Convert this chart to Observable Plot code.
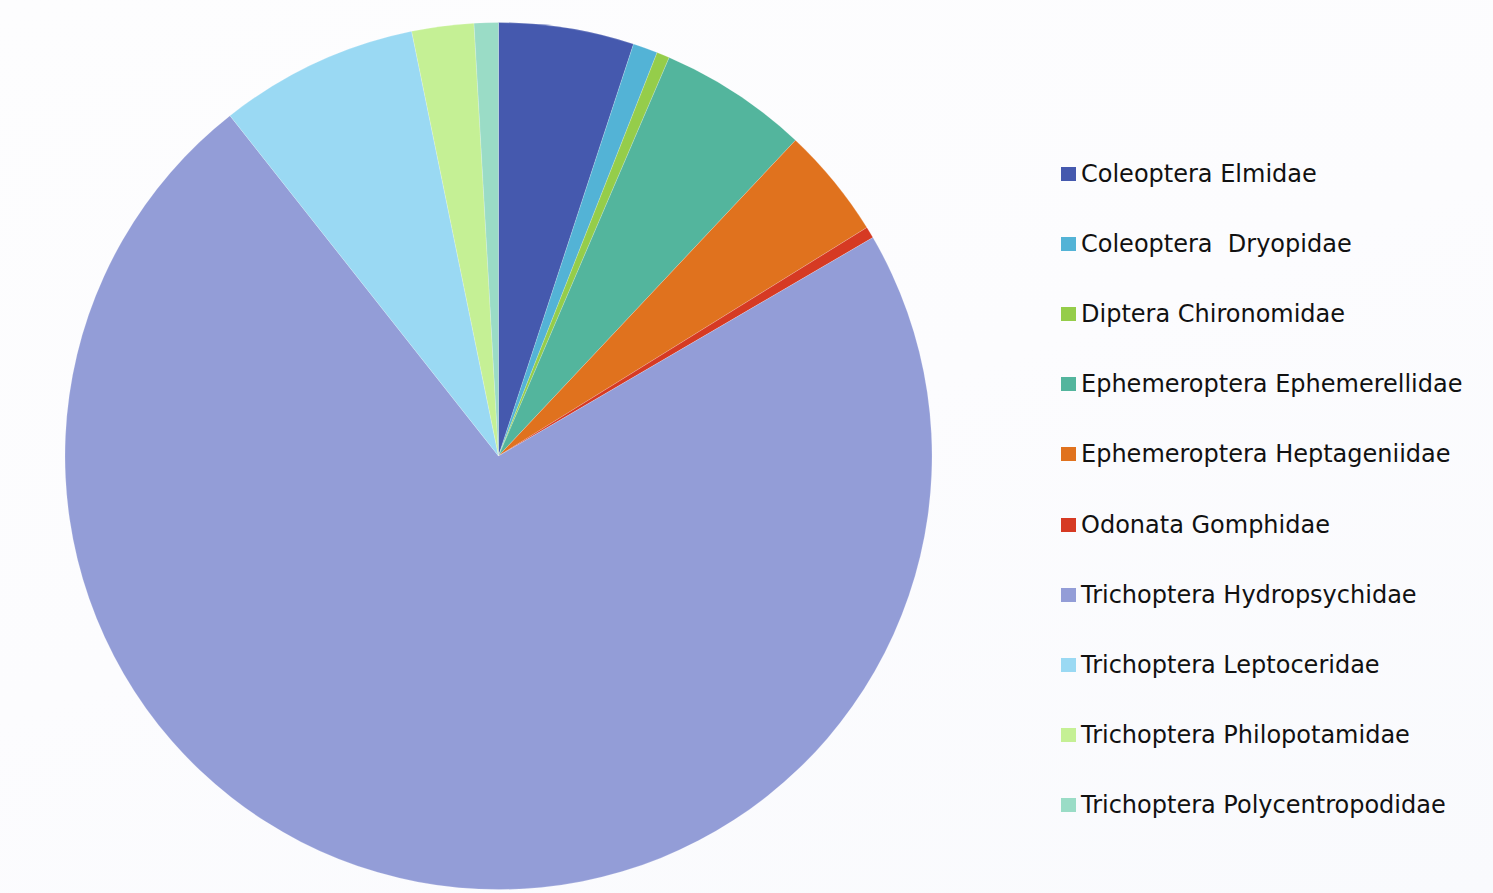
<!DOCTYPE html>
<html>
<head>
<meta charset="utf-8">
<script src="https://cdn.jsdelivr.net/npm/d3@7"></script>
<script src="https://cdn.jsdelivr.net/npm/@observablehq/plot@0.6"></script>
<style>
  html, body { margin: 0; padding: 0; background: #fcfcfe; }
  body { width: 1493px; height: 893px; position: relative; overflow: hidden;
         background: linear-gradient(160deg, #fdfdfe 0%, #fcfcfe 50%, #f9fafd 100%); }
  #chart { position: absolute; left: 0; top: 0; }
  #legend { position: absolute; left: 1061px; top: 0; font-family: "DejaVu Sans", sans-serif;
            font-size: 24px; color: #111; }
  .item { position: absolute; left: 0; white-space: pre; height: 30px; line-height: 30px; }
  .sw { position: absolute; left: 0; top: 8px; width: 15px; height: 14px; }
  .lbl { position: absolute; left: 20px; top: 0; }
</style>
</head>
<body>
<div id="chart"></div>
<div id="legend"></div>
<script>
const families = [
  "Coleoptera Elmidae",
  "Coleoptera  Dryopidae",
  "Diptera Chironomidae",
  "Ephemeroptera Ephemerellidae",
  "Ephemeroptera Heptageniidae",
  "Odonata Gomphidae",
  "Trichoptera Hydropsychidae",
  "Trichoptera Leptoceridae",
  "Trichoptera Philopotamidae",
  "Trichoptera Polycentropodidae"
];
const shares = [5.04, 0.92, 0.48, 5.57, 4.15, 0.43, 72.76, 7.42, 2.31, 0.90];
const colors = ["#4559ae", "#53b3d6", "#95cd4a", "#53b59d", "#e0721e",
                "#d63a23", "#939dd7", "#9ad9f3", "#c5f095", "#9adcc6"];

const data = families.map((name, i) => ({name, value: shares[i]}));
const pie = d3.pie().sort(null).value(d => d.value)(data);

const colorScale = Plot.scale({color: {type: "ordinal", domain: families, range: colors}});

const plot = Plot.plot({
  width: 1493,
  height: 893,
  margin: 0,
  style: {background: "transparent"},
  x: {domain: [-1, 1], range: [65, 932], axis: null},
  y: {domain: [-1, 1], range: [889.5, 22.5], axis: null},
  marks: [
    (index, scales) => {
      const cx = scales.x(0), cy = scales.y(0);
      const r = scales.x(1) - scales.x(0);
      const arc = d3.arc().innerRadius(0).outerRadius(r);
      const g = d3.create("svg:g").attr("transform", `translate(${cx},${cy})`);
      g.selectAll("path").data(pie).join("path")
        .attr("d", arc)
        .attr("fill", d => colorScale.apply(d.data.name))
        .attr("stroke", "#ffffff")
        .attr("stroke-opacity", 0.35)
        .attr("stroke-width", 0.5);
      return g.node();
    }
  ]
});
document.getElementById("chart").append(plot);

const legend = document.getElementById("legend");
families.forEach((name, i) => {
  const item = document.createElement("div");
  item.className = "item";
  item.style.top = (159 + i * 70.1) + "px";
  const sw = document.createElement("div");
  sw.className = "sw";
  sw.style.background = colorScale.apply(name);
  const lbl = document.createElement("div");
  lbl.className = "lbl";
  lbl.textContent = name;
  item.append(sw, lbl);
  legend.append(item);
});
</script>
</body>
</html>
